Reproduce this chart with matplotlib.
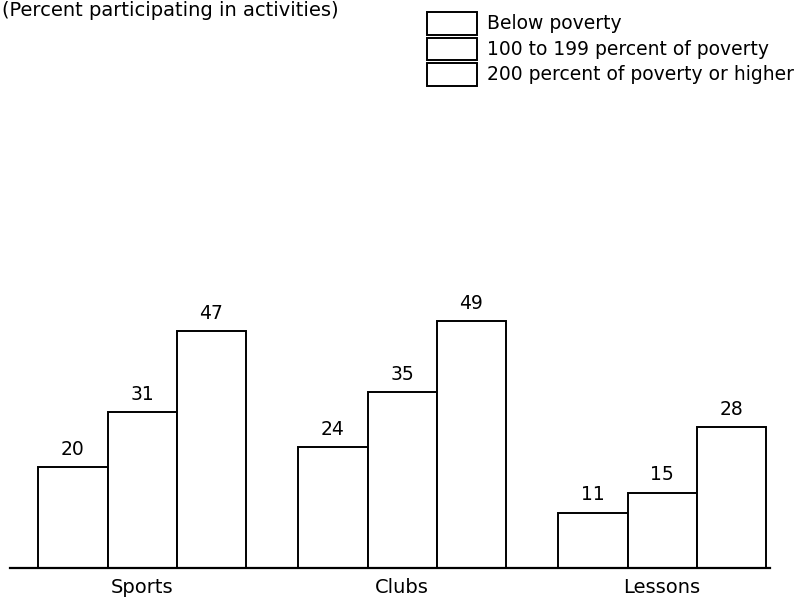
import matplotlib
matplotlib.use("Agg")
import matplotlib.pyplot as plt
import numpy as np

categories = ["Sports", "Clubs", "Lessons"]
series_names = ["Below poverty", "100 to 199 percent of poverty", "200 percent of poverty or higher"]
below_poverty = [20, 24, 11]
pct_100_199 = [31, 35, 15]
pct_200_plus = [47, 49, 28]
title_text = "(Percent participating in activities)"

plt.rcParams['font.family'] = ['DejaVu Sans']

W, H = 800, 597
fig = plt.figure(figsize=(W / 100, H / 100), dpi=100)

# axes placement in pixels
left_px, right_px, bottom_px, top_px = 10, 770, 568, 266
ax = fig.add_axes([left_px / W, 1 - bottom_px / H, (right_px - left_px) / W, (bottom_px - top_px) / H])

x = np.arange(len(categories))
w = 0.266
series = [below_poverty, pct_100_199, pct_200_plus]
handles = []
for i, (vals, name) in enumerate(zip(series, series_names)):
    bars = ax.bar(x + (i - 1) * w, vals, width=w, facecolor='white', edgecolor='black',
                  linewidth=1.4, label=name)
    handles.append(bars)
    for xi, v in zip(x + (i - 1) * w, vals):
        ax.annotate(str(v), (xi, v), xytext=(0, 6), textcoords='offset points',
                    ha='center', va='bottom', fontsize=13.5)

ax.set_xlim(-0.508, 2.415)
ax.set_ylim(0, 60)
for s in ['top', 'right', 'left']:
    ax.spines[s].set_visible(False)
ax.spines['bottom'].set_linewidth(1.6)
ax.set_yticks([])
ax.set_xticks(x)
ax.set_xticklabels(categories, fontsize=14)
ax.tick_params(axis='x', length=0, pad=7)

fig.text(2 / W, 1 - 1 / H, title_text, ha='left', va='top', fontsize=14)

leg = fig.legend(handles=handles, labels=series_names, loc='upper left',
                 bbox_to_anchor=(427 / W, 1 - 12 / H), frameon=False, fontsize=13.5,
                 handlelength=2.67, handleheight=1.47, labelspacing=0.16, handletextpad=0.53,
                 borderpad=0, borderaxespad=0)
for p in leg.get_patches():
    p.set_linewidth(1.4)

fig.savefig("out.png", dpi=100)
